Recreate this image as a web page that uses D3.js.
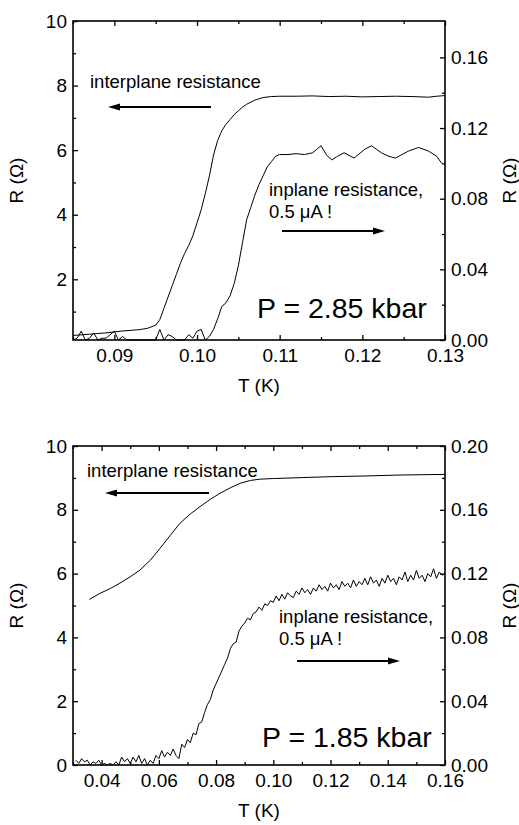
<!DOCTYPE html>
<html><head><meta charset="utf-8">
<script src="https://cdn.jsdelivr.net/npm/d3@7"></script>
<style>
html,body{margin:0;padding:0;background:#fff;}
svg{display:block;font-family:"Liberation Sans",Arial,Helvetica,sans-serif;}
</style></head>
<body>
<svg id="chart" width="519" height="825"></svg>
<script>
// ---------------- DATA ----------------
// Top panel (P = 2.85 kbar)
const topInterplane = [
 [0.0850,0.26],[0.0860,0.28],[0.0870,0.30],[0.0880,0.32],[0.0890,0.34],[0.0900,0.37],[0.0910,0.40],
 [0.0920,0.42],[0.0930,0.44],[0.0940,0.48],[0.0950,0.58],[0.0955,0.75],[0.0960,1.10],[0.0965,1.45],
 [0.0970,1.80],[0.0975,2.15],[0.0980,2.50],[0.0985,2.80],[0.0990,3.05],[0.0995,3.35],[0.1000,3.75],
 [0.1005,4.15],[0.1010,4.65],[0.1015,5.20],[0.1020,5.85],[0.1025,6.30],[0.1030,6.60],[0.1035,6.80],
 [0.1040,6.95],[0.1045,7.10],[0.1050,7.22],[0.1055,7.33],[0.1060,7.42],[0.1070,7.55],[0.1080,7.63],
 [0.1090,7.66],[0.1100,7.67],[0.1120,7.67],[0.1140,7.68],[0.1160,7.66],[0.1180,7.67],[0.1200,7.65],
 [0.1220,7.66],[0.1240,7.67],[0.1260,7.66],[0.1280,7.64],[0.1290,7.67],[0.1300,7.69]
];
const topInplane = [
 [0.0850,0.000],[0.0855,0.001],[0.0860,0.005],[0.0865,0.000],[0.0870,0.001],[0.0875,0.004],[0.0880,0.000],
 [0.0885,0.001],[0.0890,0.001],[0.0900,0.005],[0.0905,0.000],[0.0910,0.002],[0.0915,0.000],[0.0920,0.000],
 [0.0930,0.000],[0.0940,0.000],[0.0950,0.000],[0.0955,0.006],[0.0960,0.000],[0.0965,0.003],[0.0970,0.002],
 [0.0975,0.000],[0.0980,0.000],[0.0985,0.000],[0.0990,0.003],[0.0995,0.001],[0.1000,0.005],[0.1005,0.006],
 [0.1010,0.000],[0.1015,0.002],[0.1020,0.006],[0.1025,0.012],[0.1030,0.019],[0.1035,0.021],[0.1040,0.025],
 [0.1045,0.032],[0.1050,0.042],[0.1055,0.055],[0.1060,0.068],[0.1065,0.075],[0.1070,0.082],[0.1075,0.088],
 [0.1080,0.093],[0.1085,0.098],[0.1090,0.101],[0.1095,0.104],[0.1100,0.105],[0.1110,0.105],[0.1120,0.1055],
 [0.1130,0.105],[0.1140,0.106],[0.1145,0.108],[0.1150,0.110],[0.1157,0.1045],[0.1163,0.102],[0.1170,0.104],
 [0.1178,0.106],[0.1190,0.103],[0.1203,0.108],[0.1211,0.110],[0.1223,0.106],[0.1232,0.104],[0.1240,0.103],
 [0.1256,0.107],[0.1268,0.109],[0.1280,0.107],[0.1290,0.104],[0.1296,0.100]
];
// Bottom panel (P = 1.85 kbar)
const botInterplane = [
 [0.0357,5.19],[0.0394,5.38],[0.0430,5.53],[0.0464,5.70],[0.0500,5.90],[0.0534,6.11],[0.0570,6.42],
 [0.0604,6.79],[0.0640,7.20],[0.0674,7.58],[0.0710,7.87],[0.0744,8.10],[0.0780,8.33],[0.0814,8.52],
 [0.0850,8.69],[0.0884,8.83],[0.0920,8.92],[0.0953,8.96],[0.1000,8.98],[0.1034,8.99],[0.1100,9.01],
 [0.1209,9.04],[0.1320,9.06],[0.1443,9.09],[0.1520,9.10],[0.1600,9.11]
];
const botInplane = [
 [0.031,0.003],[0.032,0.001],[0.033,0.004],[0.034,0.002],[0.035,0.003],[0.036,0.000],[0.037,0.002],
 [0.038,0.001],[0.039,0.003],[0.040,0.000],[0.041,0.001],[0.042,0.000],[0.043,0.001],[0.044,0.000],
 [0.045,0.002],[0.046,0.000],[0.047,0.005],[0.048,0.002],[0.049,0.004],[0.050,0.001],[0.051,0.005],
 [0.052,0.002],[0.053,0.006],[0.054,0.001],[0.055,0.004],[0.056,0.000],[0.057,0.003],[0.058,0.001],
 [0.059,0.006],[0.060,0.004],[0.061,0.009],[0.062,0.005],[0.063,0.008],[0.064,0.006],[0.065,0.010],
 [0.066,0.006],[0.067,0.004],[0.068,0.013],[0.069,0.011],[0.070,0.016],[0.071,0.014],[0.072,0.020],
 [0.073,0.019],[0.074,0.026],[0.075,0.027],[0.076,0.033],[0.077,0.038],[0.078,0.041],[0.079,0.047],
 [0.080,0.051],[0.081,0.055],[0.082,0.059],[0.083,0.063],[0.084,0.067],[0.085,0.073],[0.086,0.076],
 [0.087,0.077],[0.088,0.084],[0.089,0.087],[0.090,0.089],[0.091,0.092],[0.092,0.091],[0.093,0.095],
 [0.094,0.096],[0.095,0.099],[0.096,0.097],[0.097,0.101],[0.098,0.100],[0.099,0.103],[0.100,0.102],
 [0.101,0.106],[0.102,0.103],[0.103,0.107],[0.104,0.104],[0.105,0.108],[0.106,0.106],[0.107,0.105],
 [0.108,0.109],[0.109,0.107],[0.110,0.111],[0.111,0.108],[0.112,0.110],[0.113,0.107],[0.114,0.111],
 [0.115,0.109],[0.116,0.113],[0.117,0.110],[0.118,0.112],[0.119,0.109],[0.120,0.114],[0.121,0.111],
 [0.122,0.113],[0.123,0.110],[0.124,0.115],[0.125,0.112],[0.126,0.114],[0.127,0.111],[0.128,0.116],
 [0.129,0.112],[0.130,0.115],[0.131,0.113],[0.132,0.117],[0.133,0.113],[0.134,0.118],[0.135,0.114],
 [0.136,0.116],[0.137,0.112],[0.138,0.117],[0.139,0.114],[0.140,0.119],[0.141,0.115],[0.142,0.117],
 [0.143,0.113],[0.144,0.118],[0.145,0.116],[0.146,0.121],[0.147,0.115],[0.148,0.119],[0.149,0.116],
 [0.150,0.122],[0.151,0.117],[0.152,0.119],[0.153,0.115],[0.154,0.120],[0.155,0.118],[0.156,0.123],
 [0.157,0.117],[0.158,0.121],[0.159,0.119],[0.160,0.120]
];
// Tick values
const topXMajor = [0.09,0.10,0.11,0.12,0.13];
const topXMinor = [0.085,0.095,0.105,0.115,0.125];
const topYLMajor = [2,4,6,8,10];
const topYLMinor = [1,3,5,7,9];
const topYRMajor = [0.00,0.04,0.08,0.12,0.16];
const topYRMinor = [0.02,0.06,0.10,0.14];
const botXMajor = [0.04,0.06,0.08,0.10,0.12,0.14,0.16];
const botXMinor = [0.03,0.05,0.07,0.09,0.11,0.13,0.15];
const botYLMajor = [0,2,4,6,8,10];
const botYLMinor = [1,3,5,7,9];
const botYRMajor = [0.00,0.04,0.08,0.12,0.16,0.20];
const botYRMinor = [0.02,0.06,0.10,0.14,0.18];

// ---------------- DRAW ----------------
const svg = d3.select("#chart");

function panel(cfg){
  const g = svg.append("g");
  const x = d3.scaleLinear().domain(cfg.xDom).range([cfg.left, cfg.right]);
  const yL = d3.scaleLinear().domain(cfg.yLDom).range([cfg.bottom, cfg.top]);
  const yR = d3.scaleLinear().domain(cfg.yRDom).range([cfg.bottom, cfg.top]);
  const fs = 19;
  const MAJ = 5, MIN = 3;

  function styleAxis(sel){
    sel.select(".domain").remove();
    sel.selectAll(".tick line").attr("stroke","#000").attr("stroke-width",1.3);
    sel.selectAll(".tick text").attr("font-size",fs).attr("fill","#000")
      .attr("font-family","Liberation Sans, Arial, sans-serif");
  }
  // bottom axis
  g.append("g").attr("transform",`translate(0,${cfg.bottom})`)
    .call(d3.axisBottom(x).tickValues(cfg.xMajor).tickSizeInner(-MAJ).tickSizeOuter(0).tickPadding(9).tickFormat(d3.format(".2f")))
    .call(styleAxis);
  g.append("g").attr("transform",`translate(0,${cfg.bottom})`)
    .call(d3.axisBottom(x).tickValues(cfg.xMinor).tickSizeInner(-MIN).tickSizeOuter(0).tickFormat(""))
    .call(styleAxis);
  // top axis
  g.append("g").attr("transform",`translate(0,${cfg.top})`)
    .call(d3.axisTop(x).tickValues(cfg.xMajor).tickSizeInner(-MAJ).tickSizeOuter(0).tickFormat(""))
    .call(styleAxis);
  g.append("g").attr("transform",`translate(0,${cfg.top})`)
    .call(d3.axisTop(x).tickValues(cfg.xMinor).tickSizeInner(-MIN).tickSizeOuter(0).tickFormat(""))
    .call(styleAxis);
  // left axis
  g.append("g").attr("transform",`translate(${cfg.left},0)`)
    .call(d3.axisLeft(yL).tickValues(cfg.yLMajor).tickSizeInner(-MAJ).tickSizeOuter(0).tickPadding(6).tickFormat(d3.format("d")))
    .call(styleAxis);
  g.append("g").attr("transform",`translate(${cfg.left},0)`)
    .call(d3.axisLeft(yL).tickValues(cfg.yLMinor).tickSizeInner(-MIN).tickSizeOuter(0).tickFormat(""))
    .call(styleAxis);
  // right axis
  g.append("g").attr("transform",`translate(${cfg.right},0)`)
    .call(d3.axisRight(yR).tickValues(cfg.yRMajor).tickSizeInner(-MAJ).tickSizeOuter(0).tickPadding(6).tickFormat(d3.format(".2f")))
    .call(styleAxis);
  g.append("g").attr("transform",`translate(${cfg.right},0)`)
    .call(d3.axisRight(yR).tickValues(cfg.yRMinor).tickSizeInner(-MIN).tickSizeOuter(0).tickFormat(""))
    .call(styleAxis);

  // frame
  g.append("rect").attr("x",cfg.left).attr("y",cfg.top)
    .attr("width",cfg.right-cfg.left).attr("height",cfg.bottom-cfg.top)
    .attr("fill","none").attr("stroke","#000").attr("stroke-width",1.6);

  // data lines
  const clipId = "clip"+cfg.id;
  g.append("clipPath").attr("id",clipId).append("rect")
    .attr("x",cfg.left).attr("y",cfg.top).attr("width",cfg.right-cfg.left).attr("height",cfg.bottom-cfg.top+1);
  const lineL = d3.line().x(d=>x(d[0])).y(d=>yL(d[1]));
  const lineR = d3.line().x(d=>x(d[0])).y(d=>yR(d[1]));
  g.append("path").datum(cfg.inter).attr("d",lineL).attr("fill","none")
    .attr("stroke","#000").attr("stroke-width",1).attr("clip-path",`url(#${clipId})`);
  g.append("path").datum(cfg.inplane).attr("d",lineR).attr("fill","none")
    .attr("stroke","#000").attr("stroke-width",1).attr("clip-path",`url(#${clipId})`);

  // axis titles
  g.append("text").attr("x",(cfg.left+cfg.right)/2).attr("y",cfg.bottom+cfg.xTitleDy)
    .attr("text-anchor","middle").attr("font-size",19).text("T (K)");
  g.append("text").attr("transform",`translate(23,${(cfg.top+cfg.bottom)/2}) rotate(-90)`)
    .attr("text-anchor","middle").attr("font-size",19).text("R (\u03A9)");
  g.append("text").attr("transform",`translate(516,${(cfg.top+cfg.bottom)/2}) rotate(-90)`)
    .attr("text-anchor","middle").attr("font-size",19).text("R (\u03A9)");

  // annotations
  const afs = 18.5;
  g.append("text").attr("x",cfg.interText[0]).attr("y",cfg.interText[1]).attr("font-size",afs).text("interplane resistance");
  g.append("text").attr("x",cfg.inText[0]).attr("y",cfg.inText[1]).attr("font-size",afs).text("inplane resistance,");
  g.append("text").attr("x",cfg.inText[0]).attr("y",cfg.inText[1]+22).attr("font-size",afs).text("0.5 \u03BCA !");
  g.append("text").attr("x",cfg.pText[0]).attr("y",cfg.pText[1]).attr("font-size",28.5).text(cfg.pLabel);

  function arrow(x1,x2,y,dir){
    g.append("line").attr("x1",x1).attr("x2",x2 - dir*8).attr("y1",y).attr("y2",y)
      .attr("stroke","#000").attr("stroke-width",1.8);
    g.append("path").attr("d",`M${x2},${y} L${x2-dir*12},${y-3.5} L${x2-dir*12},${y+3.5} Z`).attr("fill","#000");
  }
  arrow(cfg.arrL[0], cfg.arrL[1], cfg.arrL[2], -1);
  arrow(cfg.arrR[0], cfg.arrR[1], cfg.arrR[2], 1);
}

panel({id:1, left:73, right:445, top:21, bottom:340,
  xDom:[0.085,0.13], yLDom:[0.12,10], yRDom:[0,0.1806],
  xMajor:topXMajor, xMinor:topXMinor, yLMajor:topYLMajor, yLMinor:topYLMinor,
  yRMajor:topYRMajor, yRMinor:topYRMinor,
  inter:topInterplane, inplane:topInplane, xTitleDy:52,
  interText:[90,88], inText:[269,196], pText:[257,318], pLabel:"P = 2.85 kbar",
  arrL:[211,108,107], arrR:[282,385,231]});

panel({id:2, left:73, right:445, top:446, bottom:765,
  xDom:[0.03,0.16], yLDom:[0,10], yRDom:[0,0.2],
  xMajor:botXMajor, xMinor:botXMinor, yLMajor:botYLMajor, yLMinor:botYLMinor,
  yRMajor:botYRMajor, yRMinor:botYRMinor,
  inter:botInterplane, inplane:botInplane, xTitleDy:52,
  interText:[87,477], inText:[279,623], pText:[262,747], pLabel:"P = 1.85 kbar",
  arrL:[209,105,493], arrR:[297,400,661]});
</script>
</body></html>
